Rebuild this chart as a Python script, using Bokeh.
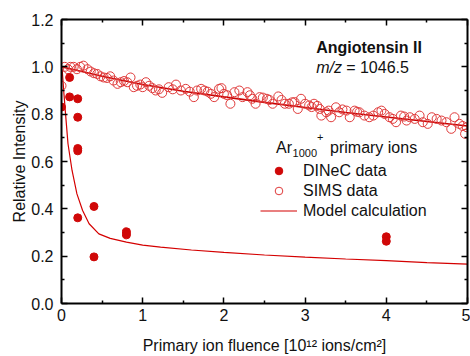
from bokeh.plotting import figure
from bokeh.models import (LinearAxis, FixedTicker, NumeralTickFormatter, Range1d,
                          Legend, LegendItem, Label, CustomJSTickFormatter)
from bokeh.embed import file_html
from bokeh.resources import INLINE

# ---------------- data ----------------
dinec_x = [0.0, 0.1, 0.1, 0.2, 0.2, 0.2, 0.2, 0.2, 0.4, 0.4, 0.8, 0.8, 4.0, 4.0]
dinec_y = [0.83, 0.955, 0.873, 0.865, 0.787, 0.655, 0.645, 0.362, 0.41, 0.197, 0.303, 0.29, 0.282, 0.263]

sims_x = [0.00, 0.04, 0.08, 0.11, 0.15, 0.19, 0.23, 0.27, 0.32, 0.36, 0.40, 0.44, 0.48, 0.52,
          0.56, 0.60, 0.64, 0.69, 0.73, 0.77, 0.81, 0.85, 0.89, 0.93, 0.97, 1.00, 1.04, 1.08,
          1.12, 1.16, 1.20, 1.24, 1.32, 1.37, 1.41, 1.47, 1.53, 1.58, 1.63, 1.67, 1.72, 1.76,
          1.80, 1.84, 1.88, 1.94, 1.97, 2.00, 2.04, 2.08, 2.13, 2.19, 2.23, 2.29, 2.32, 2.35,
          2.39, 2.44, 2.48, 2.53, 2.56, 2.60, 2.67, 2.71, 2.75, 2.80, 2.84, 2.87, 2.91, 2.95,
          3.00, 3.05, 3.08, 3.11, 3.15, 3.18, 3.20, 3.26, 3.29, 3.32, 3.38, 3.42, 3.46, 3.51,
          3.55, 3.61, 3.64, 3.67, 3.73, 3.79, 3.84, 3.90, 3.94, 3.98, 4.04, 4.08, 4.12, 4.18,
          4.22, 4.25, 4.29, 4.35, 4.41, 4.45, 4.51, 4.56, 4.62, 4.68, 4.74, 4.80, 4.84, 4.90,
          4.94, 4.97, 4.99]
sims_y = [0.92, 1.00, 0.99, 1.00, 1.00, 0.99, 1.00, 1.005, 0.99, 0.98, 0.973, 0.97, 0.96, 0.955,
          0.953, 0.96, 0.942, 0.928, 0.935, 0.94, 0.935, 0.955, 0.914, 0.92, 0.925, 0.914, 0.935, 0.92,
          0.91, 0.90, 0.905, 0.89, 0.914, 0.905, 0.925, 0.90, 0.907, 0.895, 0.872, 0.90, 0.907, 0.90,
          0.895, 0.886, 0.872, 0.907, 0.91, 0.886, 0.88, 0.844, 0.893, 0.90, 0.872, 0.893, 0.88, 0.865,
          0.844, 0.872, 0.87, 0.865, 0.86, 0.844, 0.875, 0.86, 0.844, 0.844, 0.85, 0.851, 0.822, 0.865,
          0.844, 0.837, 0.83, 0.844, 0.835, 0.822, 0.794, 0.808, 0.815, 0.787, 0.829, 0.808, 0.82, 0.815,
          0.787, 0.815, 0.81, 0.808, 0.794, 0.787, 0.794, 0.808, 0.815, 0.801, 0.787, 0.78, 0.766, 0.794,
          0.79, 0.773, 0.787, 0.78, 0.794, 0.766, 0.759, 0.787, 0.78, 0.773, 0.766, 0.738, 0.787, 0.759,
          0.75, 0.717, 0.745]

sims_fit_x = [0.0, 0.5, 1.0, 1.5, 2.0, 2.5, 3.0, 3.5, 4.0, 4.5, 5.0]
sims_fit_y = [1.0, 0.96, 0.925, 0.897, 0.873, 0.85, 0.828, 0.807, 0.788, 0.769, 0.75]

model_x = [0.0, 0.01, 0.03, 0.05, 0.08, 0.13, 0.19, 0.26, 0.34, 0.46, 0.6, 0.8, 1.0, 1.22,
           1.6, 2.0, 2.5, 3.0, 3.5, 4.0, 4.5, 5.0]
model_y = [1.0, 0.98, 0.886, 0.80, 0.675, 0.562, 0.463, 0.393, 0.337, 0.294, 0.275, 0.259, 0.247,
           0.238, 0.226, 0.216, 0.205, 0.196, 0.188, 0.181, 0.173, 0.166]

x_major = [0, 1, 2, 3, 4, 5]
x_minor = [0.5, 1.5, 2.5, 3.5, 4.5]
y_major = [0.0, 0.2, 0.4, 0.6, 0.8, 1.0, 1.2]
y_minor = [0.1, 0.3, 0.5, 0.7, 0.9, 1.1]

FONT = "Liberation Sans"
RED = "#d40000"
SIMS_RED = "#e03a3a"

p = figure(width=470, height=356, output_backend="svg", toolbar_location=None,
           x_range=Range1d(0, 5), y_range=Range1d(0, 1.2),
           x_axis_location=None, y_axis_location=None,
           min_border_left=61, min_border_right=3, min_border_top=19, min_border_bottom=53)
p.outline_line_color = None
p.xgrid.visible = False
p.ygrid.visible = False
p.background_fill_color = "white"
p.border_fill_color = "white"


def style_axis(ax, show_labels):
    ax.axis_line_width = 2
    ax.axis_line_color = "black"
    ax.major_tick_in = 6
    ax.major_tick_out = 0
    ax.minor_tick_in = 3
    ax.minor_tick_out = 0
    ax.major_tick_line_width = 1.5
    ax.minor_tick_line_width = 1.5
    ax.major_tick_line_color = "black"
    ax.minor_tick_line_color = "black"
    if show_labels:
        ax.major_label_text_font = FONT
        ax.major_label_text_font_size = "16px"
        ax.major_label_text_color = "#111111"
        ax.axis_label_text_font = FONT
        ax.axis_label_text_font_size = "16px"
        ax.axis_label_text_font_style = "normal"
        ax.axis_label_text_color = "#111111"
    else:
        ax.formatter = CustomJSTickFormatter(code="return ''")
        ax.major_label_standoff = 0


xb = LinearAxis(ticker=FixedTicker(ticks=x_major, minor_ticks=x_minor),
                axis_label="Primary ion fluence [10¹² ions/cm²]")
xb.formatter = NumeralTickFormatter(format="0")
style_axis(xb, True)
xb.major_label_standoff = 5
xb.axis_label_standoff = 13
p.add_layout(xb, "below")

yl = LinearAxis(ticker=FixedTicker(ticks=y_major, minor_ticks=y_minor),
                axis_label="Relative Intensity")
yl.formatter = NumeralTickFormatter(format="0.0")
style_axis(yl, True)
yl.major_label_standoff = 8
yl.axis_label_standoff = 0
p.add_layout(yl, "left")

xt = LinearAxis(ticker=FixedTicker(ticks=x_major, minor_ticks=x_minor))
style_axis(xt, False)
p.add_layout(xt, "above")

yr = LinearAxis(ticker=FixedTicker(ticks=y_major, minor_ticks=y_minor))
style_axis(yr, False)
p.add_layout(yr, "right")

# ---------------- glyphs ----------------
r_model = p.line(model_x, model_y, line_color=RED, line_width=1.2)
r_fit = p.line(sims_fit_x, sims_fit_y, line_color="#c80000", line_width=1.6)
r_sims = p.scatter(sims_x, sims_y, marker="circle", size=9, fill_color=None,
                   line_color=SIMS_RED, line_width=1)
r_dinec = p.scatter(dinec_x, dinec_y, marker="circle", size=8, fill_color="#d00808",
                    line_color="#d00808", line_width=1)

legend = Legend(items=[LegendItem(label="DINeC data", renderers=[r_dinec]),
                       LegendItem(label="SIMS data", renderers=[r_sims]),
                       LegendItem(label="Model calculation", renderers=[r_model])],
                location=(199, 83), glyph_width=37, glyph_height=19, label_height=19,
                spacing=1, padding=0, margin=0, label_standoff=6,
                border_line_color=None, background_fill_alpha=0,
                label_text_font=FONT, label_text_font_size="16px", label_text_color="#111111")
p.add_layout(legend)

# ---------------- texts ----------------
def add_label(text, x, y, size="16px", style="normal", x_offset=0):
    p.add_layout(Label(x=x, y=y, text=text, x_offset=x_offset, text_font=FONT,
                       text_font_size=size, text_font_style=style, text_color="#111111",
                       text_baseline="alphabetic", text_align="left"))

add_label("Angiotensin II", 3.136, 1.083, style="bold")
add_label("m/z", 3.136, 0.999, style="italic")
add_label("= 1046.5", 3.136, 0.999, x_offset=30)

add_label("Ar", 2.642, 0.660)
add_label("1000", 2.642, 0.638, size="11px", x_offset=16.5)
add_label("+", 2.642, 0.703, size="11px", x_offset=41)
add_label("primary ions", 2.642, 0.660, x_offset=54)

open("out.html", "w").write(file_html(p, INLINE))
